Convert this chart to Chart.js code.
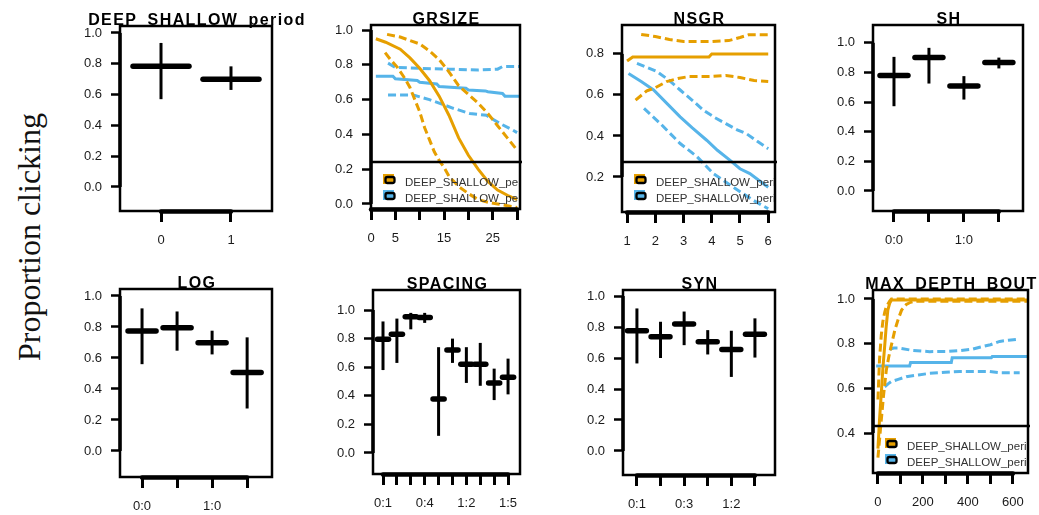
<!DOCTYPE html>
<html><head><meta charset="utf-8">
<script src="https://cdn.jsdelivr.net/npm/chart.js@4"></script>
<style>
html,body{margin:0;padding:0;background:#fff;overflow:hidden;}
#wrap{position:relative;width:1039px;height:515px;overflow:hidden;background:#fff;}
canvas{position:absolute;}
#ylab{position:absolute;left:29px;top:237px;transform:translate(-50%,-50%) rotate(-90deg);font:32px "Liberation Serif","Times New Roman",serif;white-space:nowrap;color:#111;}
</style></head><body><div id="wrap"><div id="ylab">Proportion clicking</div></div>
<script>
// ---------------- DATA ----------------
const ORANGE = '#E69F00', BLUE = '#56B4E9';
const legendLabels = ['DEEP_SHALLOW_period = 0', 'DEEP_SHALLOW_period = 1'];

// Panel 1: DEEP_SHALLOW_period (categorical)
const dsCats = ['0', '1'];
const dsXLabels = ['0', '1'];
const dsEst = [0.783, 0.700];
const dsLo  = [0.570, 0.630];
const dsHi  = [0.935, 0.783];

// Panel 2: GRSIZE (continuous) [x, y]
const grXTicks  = [0, 5, 10, 15, 20, 25, 30];
const grXLabels = ['0', '5', '', '15', '', '25', ''];
const grFit0 = [[1,0.95],[3,0.93],[6,0.89],[8,0.84],[10,0.78],[12,0.71],[14,0.62],[16,0.51],[18,0.38],[20,0.28],[22,0.20],[24,0.13],[26,0.08],[28,0.05],[30,0.025]];
const grHi0  = [[3.3,0.975],[6,0.96],[8,0.94],[10,0.92],[12,0.88],[14,0.83],[16,0.76],[18,0.68],[20,0.63],[22,0.58],[24,0.52],[26,0.45],[28,0.38],[30,0.31]];
const grLo0  = [[2.9,0.87],[4,0.83],[5.3,0.79],[7,0.72],[8,0.67],[9,0.60],[10,0.53],[11,0.44],[12,0.37],[13,0.30],[14,0.25],[15,0.21],[16,0.16],[18,0.10],[20,0.06],[22,0.025],[24,0.01],[26,0.0],[28,-0.01],[30,-0.02]];
const grFit1 = [[1,0.735],[4.5,0.735],[5,0.72],[9.5,0.71],[10,0.70],[13.5,0.69],[14,0.675],[19.5,0.665],[20,0.655],[23.5,0.65],[24,0.645],[27,0.635],[27.5,0.62],[30.5,0.62]];
const grHi1  = [[3.5,0.81],[5,0.785],[10,0.78],[16,0.775],[22,0.77],[26,0.775],[27,0.79],[30.5,0.79]];
const grLo1  = [[3.5,0.626],[8.7,0.626],[12,0.60],[16.9,0.55],[20.3,0.52],[23.7,0.51],[26.4,0.464],[29.1,0.425],[30,0.41]];

// Panel 3: NSGR (continuous)
const nsXTicks  = [1, 2, 3, 4, 5, 6];
const nsXLabels = ['1', '2', '3', '4', '5', '6'];
const nsFit0 = [[1,0.765],[1.2,0.785],[3.9,0.785],[4.0,0.80],[6,0.80]];
const nsHi0  = [[1.5,0.895],[2.0,0.885],[2.5,0.87],[3.0,0.86],[4.0,0.86],[4.6,0.865],[5.0,0.88],[5.3,0.893],[6,0.893]];
const nsLo0  = [[1.3,0.575],[1.7,0.62],[2.0,0.635],[2.4,0.665],[2.8,0.68],[3.2,0.69],[4.0,0.69],[4.5,0.695],[5.0,0.685],[5.5,0.67],[6,0.665]];
const nsFit1 = [[1.05,0.705],[1.5,0.665],[1.94,0.624],[2.4,0.56],[2.88,0.493],[3.3,0.44],[3.82,0.379],[4.2,0.33],[4.65,0.281],[5.0,0.24],[5.35,0.216],[5.7,0.18],[6,0.15]];
const nsHi1  = [[1.35,0.754],[1.7,0.735],[2.06,0.714],[2.5,0.67],[2.88,0.624],[3.3,0.575],[3.7,0.526],[4.1,0.49],[4.5,0.46],[4.9,0.43],[5.24,0.41],[5.6,0.375],[6,0.338]];
const nsLo1  = [[1.6,0.534],[2.18,0.46],[2.88,0.363],[3.47,0.30],[4.06,0.216],[4.76,0.15],[5.47,0.086],[6,0.045]];

// Panel 4: SH (categorical)
const shCats = ['0:0', '0:1', '1:0', '1:1'];
const shXLabels = ['0:0', '', '1:0', ''];
const shEst = [0.780, 0.900, 0.709, 0.867];
const shLo  = [0.572, 0.725, 0.617, 0.827];
const shHi  = [0.905, 0.966, 0.775, 0.900];

// Panel 5: LOG (categorical)
const logCats = ['0:0', '0:1', '1:0', '1:1'];
const logXLabels = ['0:0', '', '1:0', ''];
const logEst = [0.774, 0.795, 0.698, 0.506];
const logLo  = [0.560, 0.647, 0.623, 0.274];
const logHi  = [0.920, 0.900, 0.776, 0.733];

// Panel 6: SPACING (categorical)
const spCats = ['0:1', '0:2', '0:3', '0:4', '0:5', '1:1', '1:2', '1:3', '1:4', '1:5'];
const spXLabels = ['0:1', '', '', '0:4', '', '', '1:2', '', '', '1:5'];
const spEst = [0.795, 0.830, 0.953, 0.947, 0.377, 0.720, 0.620, 0.620, 0.490, 0.530];
const spLo  = [0.580, 0.630, 0.865, 0.910, 0.120, 0.630, 0.490, 0.470, 0.370, 0.410];
const spHi  = [0.920, 0.940, 0.980, 0.980, 0.740, 0.800, 0.740, 0.770, 0.590, 0.660];

// Panel 7: SYN (categorical)
const synCats = ['0:1', '0:2', '0:3', '1:1', '1:2', '1:3'];
const synXLabels = ['0:1', '', '0:3', '', '1:2', ''];
const synEst = [0.776, 0.737, 0.819, 0.705, 0.655, 0.754];
const synLo  = [0.565, 0.600, 0.683, 0.623, 0.478, 0.603];
const synHi  = [0.920, 0.834, 0.900, 0.780, 0.776, 0.856];

// Panel 8: MAX_DEPTH_BOUT (continuous)
const mdXTicks  = [0, 100, 200, 300, 400, 500, 600];
const mdXLabels = ['0', '', '200', '', '400', '', '600'];
const mdFit0 = [[0,0.33],[7,0.46],[15,0.58],[22,0.69],[30,0.79],[37,0.88],[44,0.95],[52,0.98],[60,0.995],[665,0.995]];
const mdHi0  = [[0,0.55],[7,0.73],[15,0.84],[22,0.90],[30,0.94],[37,0.965],[52,0.99],[60,1.0],[665,1.0]];
const mdLo0  = [[0,0.29],[15,0.46],[25,0.57],[37,0.68],[48,0.74],[59,0.79],[75,0.86],[89,0.906],[105,0.95],[126,0.975],[145,0.985],[163,0.99],[665,0.99]];
const mdFit1 = [[-8,0.70],[141,0.70],[145,0.715],[326,0.715],[330,0.737],[504,0.737],[508,0.742],[665,0.742]];
const mdHi1  = [[52,0.775],[70,0.78],[96,0.78],[150,0.77],[230,0.764],[300,0.765],[363,0.769],[420,0.775],[452,0.784],[500,0.795],[541,0.81],[580,0.815],[630,0.82]];
const mdLo1  = [[30,0.607],[45,0.62],[59,0.63],[90,0.64],[126,0.652],[180,0.66],[230,0.667],[300,0.672],[363,0.675],[496,0.675],[541,0.67],[630,0.67]];

// Y tick values
const yTicksFull = [0, 0.2, 0.4, 0.6, 0.8, 1.0];
const yTicksNs   = [0.2, 0.4, 0.6, 0.8];
const yTicksMd   = [0.4, 0.6, 0.8, 1.0];

// ---------------- DRAWING ----------------
Chart.defaults.font.family = '"Liberation Sans", Arial, sans-serif';
const wrap = document.getElementById('wrap');
const BAR_HALF = 0.4;

const framePlugin = {
  id: 'frame',
  afterDatasetsDraw(chart, args, o) {
    const {ctx, chartArea: a} = chart;
    const x = chart.scales.x, y = chart.scales.y;
    ctx.save();
    ctx.strokeStyle = '#000';
    ctx.lineWidth = 2.5;
    ctx.strokeRect(a.left, a.top, a.right - a.left, a.bottom - a.top);
    // R-style axis lines between first and last tick
    ctx.lineWidth = 3.5; ctx.lineCap = 'butt';
    ctx.beginPath();
    ctx.moveTo(a.left, y.getPixelForValue(o.yTicks[0]));
    ctx.lineTo(a.left, y.getPixelForValue(o.yTicks[o.yTicks.length - 1]));
    ctx.stroke();
    ctx.lineWidth = 4.5; ctx.lineCap = 'round';
    ctx.beginPath();
    ctx.moveTo(x.getPixelForValue(o.xTicks[0]), a.bottom + 0.5);
    ctx.lineTo(x.getPixelForValue(o.xTicks[o.xTicks.length - 1]), a.bottom + 0.5);
    ctx.stroke();
    // legend
    if (o.legend) {
      const top = a.bottom - o.legend;
      ctx.lineCap = 'butt';
      ctx.lineWidth = 2.5;
      ctx.beginPath(); ctx.moveTo(a.left, top); ctx.lineTo(a.right + 2, top); ctx.stroke();
      ctx.save();
      ctx.beginPath(); ctx.rect(a.left, top, a.right - a.left - 1, o.legend); ctx.clip();
      [ORANGE, BLUE].forEach((col, i) => {
        const cy = top + 20 + 16 * i;
        const sx = a.left + 12;
        ctx.fillStyle = col;
        ctx.fillRect(sx, cy - 8, 11, 10);
        ctx.strokeStyle = '#000'; ctx.lineWidth = 2.3;
        ctx.beginPath();
        if (ctx.roundRect) ctx.roundRect(sx + 2.5, cy - 5, 9, 6, 2); else ctx.rect(sx + 2.5, cy - 5, 9, 6);
        ctx.stroke();
        ctx.fillStyle = '#333';
        ctx.font = '11.5px "Liberation Sans", Arial, sans-serif';
        ctx.textAlign = 'left'; ctx.textBaseline = 'middle';
        ctx.fillText(legendLabels[i], a.left + 34, cy + 1);
      });
      ctx.restore();
    }
    // title
    ctx.fillStyle = '#000';
    ctx.font = 'bold 16px "Liberation Sans", Arial, sans-serif';
    if ('letterSpacing' in ctx) ctx.letterSpacing = '1.4px';
    ctx.textAlign = 'center'; ctx.textBaseline = 'alphabetic';
    ctx.fillText(o.title, (a.left + a.right) / 2 + 1, a.top - 1.5);
    ctx.restore();
  }
};
Chart.register(framePlugin);

function curve(pts, color, dashed) {
  return { data: pts.map(p => ({x: p[0], y: p[1]})), borderColor: color, borderWidth: 3,
    borderDash: dashed ? [8, 4] : [], showLine: true, pointRadius: 0, fill: false, tension: 0 };
}
function catMarks(est, lo, hi) {
  const ds = [];
  est.forEach((v, i) => {
    const c = i + 1;
    ds.push({ data: [{x: c, y: lo[i]}, {x: c, y: hi[i]}], borderColor: '#000', borderWidth: 3,
      showLine: true, pointRadius: 0, borderCapStyle: 'butt' });
    ds.push({ data: [{x: c - BAR_HALF, y: v}, {x: c + BAR_HALF, y: v}], borderColor: '#000', borderWidth: 5.5,
      showLine: true, pointRadius: 0, borderCapStyle: 'round' });
  });
  return ds;
}

function makePanel(cfg) {
  const [L, T, R, B] = cfg.box;
  const padL = 62, padT = 28, padR = 50, padB = 42;
  const w = (R - L) + padL + padR, h = (B - T) + padT + padB;
  const c = document.createElement('canvas');
  c.width = w; c.height = h;
  c.style.left = (L - padL) + 'px'; c.style.top = (T - padT) + 'px';
  c.style.width = w + 'px'; c.style.height = h + 'px';
  wrap.appendChild(c);
  new Chart(c, {
    type: 'scatter',
    data: { datasets: cfg.datasets },
    options: {
      responsive: false, animation: false, devicePixelRatio: 1, events: [],
      layout: { padding: { left: 0, top: padT, right: padR, bottom: 0 } },
      plugins: { legend: { display: false }, tooltip: { enabled: false }, title: { display: false },
        frame: { title: cfg.title, xTicks: cfg.xTicks, yTicks: cfg.yTicks, legend: cfg.legend || 0 } },
      scales: {
        x: { type: 'linear', min: cfg.xRange[0], max: cfg.xRange[1],
          afterFit: s => { s.height = padB; },
          afterBuildTicks: s => { s.ticks = cfg.xTicks.map(v => ({value: v})); },
          border: { display: false },
          grid: { drawOnChartArea: false, drawTicks: true, tickLength: 11, tickWidth: 3, tickColor: '#000', color: '#000' },
          ticks: { autoSkip: false, maxRotation: 0, padding: 11, color: '#1a1a1a', font: { size: 13 },
            callback: (v, i) => cfg.xLabels[i] } },
        y: { type: 'linear', min: cfg.yRange[0], max: cfg.yRange[1],
          afterFit: s => { s.width = padL; },
          afterBuildTicks: s => { s.ticks = cfg.yTicks.map(v => ({value: v})); },
          border: { display: false },
          grid: { drawOnChartArea: false, drawTicks: true, tickLength: 9, tickWidth: 2.5, tickColor: '#000', color: '#000' },
          ticks: { padding: 9, color: '#1a1a1a', font: { size: 13 }, callback: v => Number(v).toFixed(1) } }
      }
    }
  });
}

const catTicks = cats => cats.map((_, i) => i + 1);

makePanel({ title: 'DEEP_SHALLOW_period', box: [120, 26, 272, 211], xRange: [0.414, 2.586], yRange: [-0.156, 1.045],
  xTicks: catTicks(dsCats), xLabels: dsXLabels, yTicks: yTicksFull, datasets: catMarks(dsEst, dsLo, dsHi) });

makePanel({ title: 'GRSIZE', box: [371, 25, 520, 209], xRange: [0, 30.6], yRange: [-0.029, 1.029],
  xTicks: grXTicks, xLabels: grXLabels, yTicks: yTicksFull, legend: 47,
  datasets: [curve(grFit0, ORANGE, false), curve(grHi0, ORANGE, true), curve(grLo0, ORANGE, true),
             curve(grFit1, BLUE, false), curve(grHi1, BLUE, true), curve(grLo1, BLUE, true)] });

makePanel({ title: 'NSGR', box: [622, 25, 775, 212], xRange: [0.82, 6.24], yRange: [0.029, 0.941],
  xTicks: nsXTicks, xLabels: nsXLabels, yTicks: yTicksNs, legend: 50,
  datasets: [curve(nsFit0, ORANGE, false), curve(nsHi0, ORANGE, true), curve(nsLo0, ORANGE, true),
             curve(nsFit1, BLUE, false), curve(nsHi1, BLUE, true), curve(nsLo1, BLUE, true)] });

makePanel({ title: 'SH', box: [873, 25, 1023, 211], xRange: [0.4, 4.69], yRange: [-0.135, 1.12],
  xTicks: catTicks(shCats), xLabels: shXLabels, yTicks: yTicksFull, datasets: catMarks(shEst, shLo, shHi) });

makePanel({ title: 'LOG', box: [120, 289, 272, 477], xRange: [0.371, 4.71], yRange: [-0.168, 1.045],
  xTicks: catTicks(logCats), xLabels: logXLabels, yTicks: yTicksFull, datasets: catMarks(logEst, logLo, logHi) });

makePanel({ title: 'SPACING', box: [373, 290, 520, 474], xRange: [0.28, 10.86], yRange: [-0.147, 1.14],
  xTicks: catTicks(spCats), xLabels: spXLabels, yTicks: yTicksFull, datasets: catMarks(spEst, spLo, spHi) });

makePanel({ title: 'SYN', box: [623, 290, 775, 475], xRange: [0.41, 6.85], yRange: [-0.155, 1.039],
  xTicks: catTicks(synCats), xLabels: synXLabels, yTicks: yTicksFull, datasets: catMarks(synEst, synLo, synHi) });

makePanel({ title: 'MAX_DEPTH_BOUT', box: [873, 290, 1028, 473], xRange: [-22, 667], yRange: [0.221, 1.04],
  xTicks: mdXTicks, xLabels: mdXLabels, yTicks: yTicksMd, legend: 47,
  datasets: [curve(mdFit0, ORANGE, false), curve(mdHi0, ORANGE, true), curve(mdLo0, ORANGE, true),
             curve(mdFit1, BLUE, false), curve(mdHi1, BLUE, true), curve(mdLo1, BLUE, true)] });
</script>
</body></html>
